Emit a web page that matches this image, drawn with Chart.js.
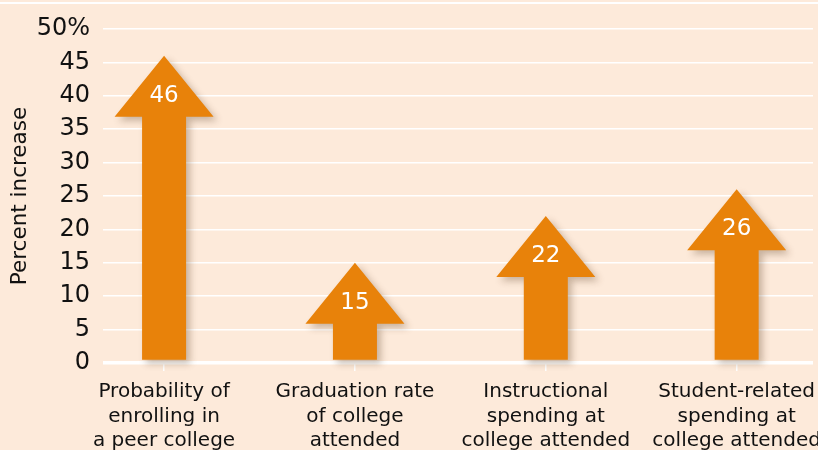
<!DOCTYPE html>
<html>
<head>
<meta charset="utf-8">
<script src="https://cdn.jsdelivr.net/npm/chart.js@4.4.1/dist/chart.umd.min.js"></script>
<style>
  html, body { margin: 0; padding: 0; background: #fdeada; }
  #wrap { width: 818px; height: 450px; }
</style>
</head>
<body>
<div id="wrap"><canvas id="myChart"></canvas></div>
<script>
// Data
var categories = [
  ['Probability of', 'enrolling in', 'a peer college'],
  ['Graduation rate', 'of college', 'attended'],
  ['Instructional', 'spending at', 'college attended'],
  ['Student-related', 'spending at', 'college attended']
];
var increases = [46, 15, 22, 26];
var yTicks = [0, 5, 10, 15, 20, 25, 30, 35, 40, 45, 50];

var BG = '#fdeada';
var ORANGE = '#e8820a';
var FONT = "'DejaVu Sans', sans-serif";

// background + thin white rule at top
var backdrop = {
  id: 'backdrop',
  beforeDraw: function (chart) {
    var c = chart.ctx;
    c.save();
    c.fillStyle = BG;
    c.fillRect(0, 0, chart.width, chart.height);
    c.fillStyle = '#ffffff';
    c.fillRect(0, 2, chart.width, 2);
    c.restore();
  }
};

// draw each bar as an up-arrow whose tip sits at the value
var arrows = {
  id: 'arrows',
  afterDatasetsDraw: function (chart) {
    var c = chart.ctx;
    var meta = chart.getDatasetMeta(0);
    var headW = 99, shaftW = 44, headH = 61;
    meta.data.forEach(function (bar, i) {
      var x = bar.x, tip = bar.y, base = bar.base - 1.5;
      c.save();
      c.shadowColor = 'rgba(90,60,30,0.32)';
      c.shadowBlur = 7;
      c.shadowOffsetX = 4;
      c.shadowOffsetY = 4;
      c.fillStyle = ORANGE;
      c.beginPath();
      c.moveTo(x, tip);
      c.lineTo(x + headW / 2, tip + headH);
      c.lineTo(x + shaftW / 2, tip + headH);
      c.lineTo(x + shaftW / 2, base);
      c.lineTo(x - shaftW / 2, base);
      c.lineTo(x - shaftW / 2, tip + headH);
      c.lineTo(x - headW / 2, tip + headH);
      c.closePath();
      c.fill();
      c.restore();

      c.save();
      c.fillStyle = '#ffffff';
      c.font = '23px ' + FONT;
      c.textAlign = 'center';
      c.textBaseline = 'middle';
      c.fillText(String(increases[i]), x, tip + headH - 21);
      c.restore();
    });
  }
};

var ctx = document.getElementById('myChart');
var myChart = new Chart(ctx, {
  type: 'bar',
  data: {
    datasets: [{
      label: 'Percent increase',
      data: increases.map(function (v, i) { return { x: i, y: v }; }),
      backgroundColor: 'rgba(0,0,0,0)',
      barThickness: 44
    }]
  },
  options: {
    responsive: true,
    maintainAspectRatio: false,
    animation: false,
    layout: { padding: { top: 29, right: 5, left: 0, bottom: 0 } },
    plugins: {
      legend: { display: false },
      tooltip: { enabled: false }
    },
    scales: {
      x: {
        type: 'linear',
        offset: false,
        min: -0.32,
        max: 3.4,
        afterBuildTicks: function (axis) {
          axis.ticks = categories.map(function (c, i) { return { value: i }; });
        },
        afterFit: function (axis) { axis.height = 87; axis.paddingLeft = 0; axis.paddingRight = 0; },
        grid: {
          offset: false,
          drawOnChartArea: false,
          drawTicks: true,
          tickLength: 8,
          color: '#ffffff',
          lineWidth: 1.5
        },
        border: { display: false },
        ticks: {
          autoSkip: false,
          maxRotation: 0,
          padding: 9,
          color: '#111111',
          font: { family: FONT, size: 20, lineHeight: 1.22 },
          callback: function (v) { return categories[v] || ''; }
        }
      },
      y: {
        min: 0,
        max: 50,
        afterBuildTicks: function (axis) {
          axis.ticks = yTicks.map(function (v) { return { value: v }; });
        },
        afterFit: function (axis) { axis.width = 103; },
        grid: {
          drawTicks: false,
          color: '#ffffff',
          lineWidth: function (c) { return c.tick && c.tick.value === 0 ? 3.5 : 1.5; }
        },
        border: { display: false },
        ticks: {
          padding: 13,
          color: '#111111',
          font: { family: FONT, size: 24 },
          callback: function (v) { return v === 50 ? '50%' : v; }
        },
        title: {
          display: true,
          text: 'Percent increase',
          color: '#111111',
          font: { family: FONT, size: 21.5 },
          padding: { top: 8, bottom: 0 }
        }
      }
    }
  },
  plugins: [backdrop, arrows]
});
</script>
</body>
</html>
